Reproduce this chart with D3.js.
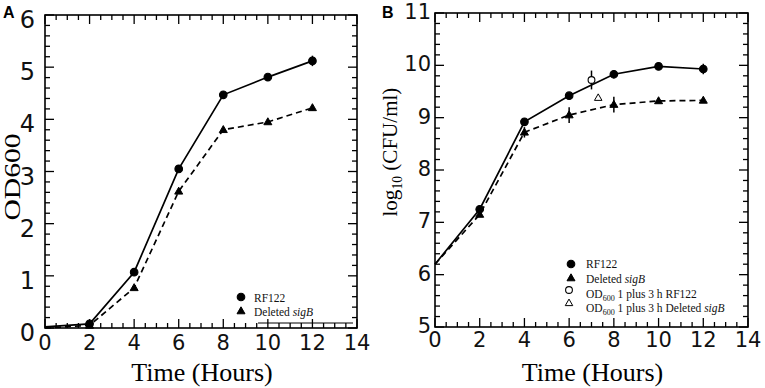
<!DOCTYPE html>
<html>
<head>
<meta charset="utf-8">
<script src="https://cdn.jsdelivr.net/npm/d3@7"></script>
<style>
  body { margin: 0; background: #fff; }
  svg { display: block; }
</style>
</head>
<body>
<svg width="765" height="388"></svg>
<script>
const svg = d3.select("svg");

// time points (hours)
const hours = [0, 2, 4, 6, 8, 10, 12];

// panel A: OD600
const odRF122 = [0.02, 0.08, 1.07, 3.05, 4.47, 4.81, 5.12];
const odSigB = [0.0, 0.05, 0.77, 2.62, 3.80, 3.95, 4.22];
const odErrRF122 = [0, 0, 0, 0, 0, 0, 0.1];
const odErrSigB = [0, 0, 0, 0, 0, 0, 0.05];

// panel B: log10 CFU/ml
const cfuRF122 = [6.2, 7.25, 8.92, 9.42, 9.83, 9.98, 9.93];
const cfuSigB = [6.2, 7.15, 8.72, 9.05, 9.25, 9.32, 9.33];
const cfuErrRF122 = [0, 0, 0.04, 0.03, 0.08, 0.03, 0.1];
const cfuErrSigB = [0, 0, 0.1, 0.15, 0.15, 0.03, 0.03];
// OD600 1 plus 3 h points
const extraRF122 = {x: 7.0, y: 9.72, err: 0.18};
const extraSigB = {x: 7.3, y: 9.38, err: 0};

const xTicks = [0, 2, 4, 6, 8, 10, 12, 14];

const serif = "'Liberation Serif', 'Times New Roman', serif";
const sans = "'DejaVu Sans', sans-serif";

function drawPanel(opts) {
    const x = d3.scaleLinear().domain([0, 14]).range([opts.left, opts.right]);
    const y = d3.scaleLinear().domain(opts.yDomain).range([opts.bottom, opts.top]);
    const g = svg.append('g');

    // frame
    g.append('rect')
        .attr('x', opts.left).attr('y', opts.top)
        .attr('width', opts.right - opts.left).attr('height', opts.bottom - opts.top)
        .attr('fill', 'none').attr('stroke', '#000').attr('stroke-width', 1.6);

    // ticks, inward on all four sides
    const xMinor = d3.range(0, 14.01, 0.5);
    const yMinor = d3.range(opts.yDomain[0], opts.yDomain[1] + 0.01, 0.2);
    xMinor.forEach(v => {
        const len = v % 2 === 0 ? 9 : 5;
        g.append('line').attr('x1', x(v)).attr('x2', x(v))
            .attr('y1', opts.bottom).attr('y2', opts.bottom - len)
            .attr('stroke', '#000').attr('stroke-width', 1.3);
        g.append('line').attr('x1', x(v)).attr('x2', x(v))
            .attr('y1', opts.top).attr('y2', opts.top + len)
            .attr('stroke', '#000').attr('stroke-width', 1.3);
    });
    yMinor.forEach(v => {
        const len = Math.abs(v - Math.round(v)) < 0.01 ? 9 : 5;
        g.append('line').attr('y1', y(v)).attr('y2', y(v))
            .attr('x1', opts.left).attr('x2', opts.left + len)
            .attr('stroke', '#000').attr('stroke-width', 1.3);
        g.append('line').attr('y1', y(v)).attr('y2', y(v))
            .attr('x1', opts.right).attr('x2', opts.right - len)
            .attr('stroke', '#000').attr('stroke-width', 1.3);
    });

    // tick labels
    g.selectAll('.xl').data(xTicks).enter().append('text')
        .attr('x', d => x(d)).attr('y', opts.bottom + opts.xLabelDy)
        .attr('text-anchor', 'middle')
        .attr('font-family', sans).attr('font-size', 21).attr('fill', '#111')
        .text(d => d);
    g.selectAll('.yl').data(d3.range(opts.yDomain[0], opts.yDomain[1] + 1)).enter().append('text')
        .attr('x', opts.left - opts.yLabelDx).attr('y', d => y(d) + opts.yLabelDy)
        .attr('text-anchor', 'end')
        .attr('font-family', sans).attr('font-size', opts.yLabelSize).attr('fill', '#111')
        .text(d => d);

    // x axis title
    g.append('text')
        .attr('x', (opts.left + opts.right) / 2 + 1).attr('y', 381)
        .attr('text-anchor', 'middle')
        .attr('font-family', serif).attr('font-size', 26)
        .text('Time (Hours)');

    // panel letter
    g.append('text')
        .attr('x', opts.letterX).attr('y', 18)
        .attr('font-family', "'Liberation Sans', Arial, sans-serif").attr('font-weight', 'bold').attr('font-size', 16)
        .text(opts.letter);

    return {g, x, y};
}

// rotated y title, stretched along its length to fit the reference
function yTitle(g, bx, cy, size, len, parts) {
    const outer = g.append('g').attr('transform', `translate(${bx},${cy}) rotate(-90)`);
    const inner = outer.append('g');
    const t = inner.append('text')
        .attr('x', 0).attr('y', 0)
        .attr('font-family', serif).attr('font-size', size);
    parts.forEach(pt => {
        const s = t.append('tspan').text(pt.t).attr('font-family', serif);
        if (pt.sub) s.attr('font-size', size * 0.65).attr('dy', 5);
        if (pt.up) s.attr('dy', -5);
    });
    const bb = t.node().getBBox();
    const k = bb.width > 0 ? len / bb.width : 1;
    inner.attr('transform', `scale(${k},1) translate(${-bb.x - bb.width / 2},0)`);
}

function drawSeries(p, ys, errs, dashed, marker) {
    const pts = hours.map((h, i) => ({x: h, y: ys[i], e: errs[i]}));
    const line = d3.line().x(d => p.x(d.x)).y(d => p.y(d.y));
    p.g.append('path').datum(pts)
        .attr('d', line)
        .attr('fill', 'none').attr('stroke', '#000').attr('stroke-width', 1.7)
        .attr('stroke-dasharray', dashed ? '6,4' : null);
    pts.filter(d => d.e > 0).forEach(d => {
        p.g.append('line')
            .attr('x1', p.x(d.x)).attr('x2', p.x(d.x))
            .attr('y1', p.y(d.y - d.e)).attr('y2', p.y(d.y + d.e))
            .attr('stroke', '#000').attr('stroke-width', 1.5);
    });
    pts.slice(1).forEach(d => drawMarker(p.g, p.x(d.x), p.y(d.y), marker, true));
}

function drawMarker(g, cx, cy, marker, filled) {
    if (marker === 'circle') {
        g.append('circle').attr('cx', cx).attr('cy', cy).attr('r', filled ? 3.8 : 3.4)
            .attr('fill', filled ? '#000' : '#fff').attr('stroke', '#000').attr('stroke-width', 1.1);
    } else {
        const s = filled ? 8 : 7.5;
        const h = s * 0.87;
        g.append('path')
            .attr('d', `M${cx},${cy - h * 0.6}L${cx + s / 2},${cy + h * 0.4}L${cx - s / 2},${cy + h * 0.4}Z`)
            .attr('fill', filled ? '#000' : '#fff').attr('stroke', '#000').attr('stroke-width', 1);
    }
}

function legendRow(g, mx, my, tx, ty, marker, filled, parts, size) {
    drawMarker(g, mx, my, marker, filled);
    const t = g.append('text').attr('x', tx).attr('y', ty)
        .attr('font-family', serif).attr('font-size', size).attr('fill', '#111');
    parts.forEach(pt => {
        const s = t.append('tspan').text(pt.t).attr('font-family', serif);
        if (pt.i) s.attr('font-style', 'italic');
        if (pt.sub) s.attr('font-size', size * 0.7).attr('dy', 3);
        if (pt.up) s.attr('dy', -3);
    });
}

// ---- panel A ----
const pA = drawPanel({left: 45, right: 357, top: 15, bottom: 328, yDomain: [0, 6], letter: 'A', letterX: 3,
    xLabelDy: 22, yLabelSize: 24, yLabelDx: 10, yLabelDy: 13});
yTitle(pA.g, 20, 177, 23, 87, [{t: 'OD600'}]);
drawSeries(pA, odSigB, odErrSigB, true, 'triangle');
drawSeries(pA, odRF122, odErrRF122, false, 'circle');
pA.g.append('line').attr('x1', 258).attr('x2', 353).attr('y1', 323).attr('y2', 323)
    .attr('stroke', '#000').attr('stroke-width', 1);
legendRow(pA.g, 241, 297, 254, 302, 'circle', true, [{t: 'RF122'}], 11.5);
legendRow(pA.g, 241, 311, 254, 316, 'triangle', true, [{t: 'Deleted '}, {t: 'sigB', i: true}], 11.5);

// ---- panel B ----
const pB = drawPanel({left: 435, right: 748, top: 13, bottom: 327, yDomain: [5, 11], letter: 'B', letterX: 382,
    xLabelDy: 20, yLabelSize: 21, yLabelDx: 4, yLabelDy: 6});
yTitle(pB.g, 397, 152, 22, 129, [{t: 'log'}, {t: '10', sub: true}, {t: ' (CFU/ml)', up: true}]);
drawSeries(pB, cfuSigB, cfuErrSigB, true, 'triangle');
drawSeries(pB, cfuRF122, cfuErrRF122, false, 'circle');
pB.g.append('line')
    .attr('x1', pB.x(extraRF122.x)).attr('x2', pB.x(extraRF122.x))
    .attr('y1', pB.y(extraRF122.y - extraRF122.err)).attr('y2', pB.y(extraRF122.y + extraRF122.err))
    .attr('stroke', '#000').attr('stroke-width', 1.5);
drawMarker(pB.g, pB.x(extraRF122.x), pB.y(extraRF122.y), 'circle', false);
drawMarker(pB.g, pB.x(extraSigB.x), pB.y(extraSigB.y), 'triangle', false);
legendRow(pB.g, 571, 264, 586, 268, 'circle', true, [{t: 'RF122'}], 11.5);
legendRow(pB.g, 571, 278, 586, 283, 'triangle', true, [{t: 'Deleted '}, {t: 'sigB', i: true}], 11.5);
legendRow(pB.g, 569, 290, 586, 298, 'circle', false, [{t: 'OD'}, {t: '600', sub: true}, {t: ' 1 plus 3 h RF122', up: true}], 11.5);
legendRow(pB.g, 569, 303, 586, 312, 'triangle', false, [{t: 'OD'}, {t: '600', sub: true}, {t: ' 1 plus 3 h Deleted ', up: true}, {t: 'sigB', i: true}], 11.5);
</script>
</body>
</html>
